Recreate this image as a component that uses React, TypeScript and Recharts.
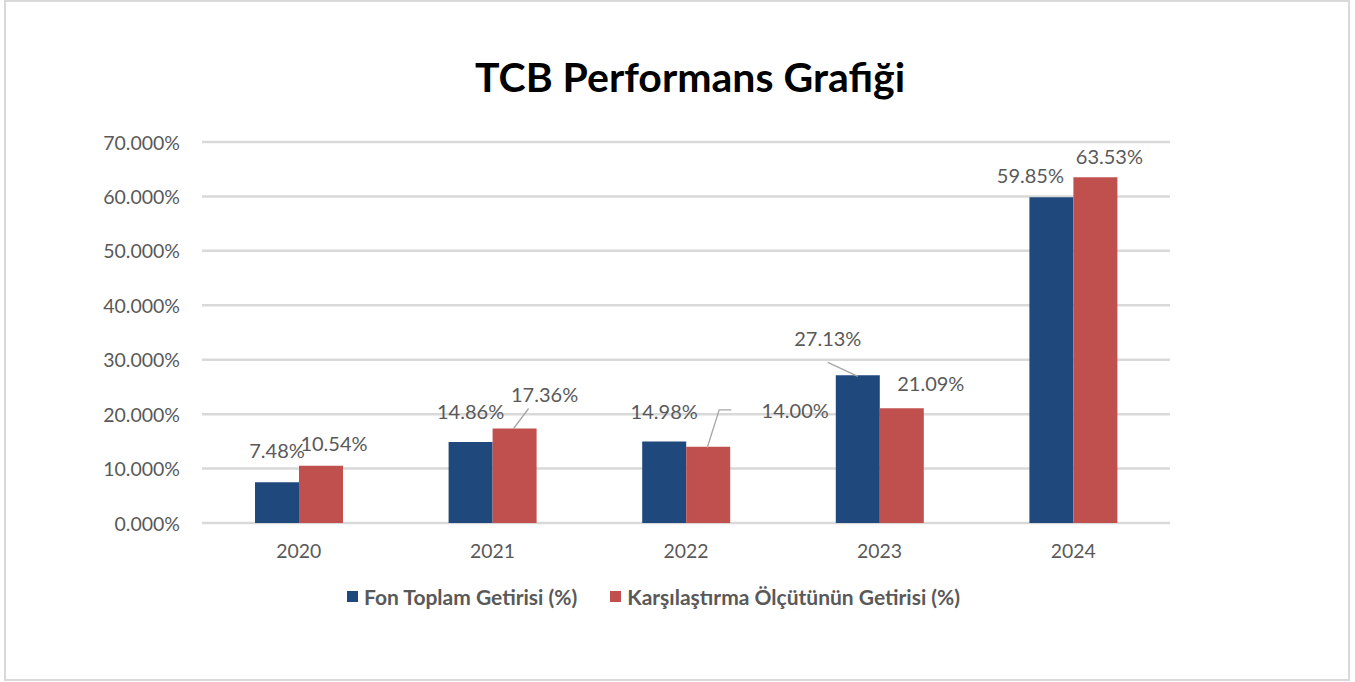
import React from 'react';
import { BarChart, Bar, XAxis, YAxis, CartesianGrid, Legend, LabelList } from 'recharts';

// ---- data ----
const years = ['2020', '2021', '2022', '2023', '2024'];
const fonToplamGetirisi = [7.48, 14.86, 14.98, 27.13, 59.85];
const olcutGetirisi = [10.54, 17.36, 14.0, 21.09, 63.53];
const yTicks = [0, 10, 20, 30, 40, 50, 60, 70];
const seriesNames = ['Fon Toplam Getirisi (%)', 'Karşılaştırma Ölçütünün Getirisi (%)'];

const data = years.map((y, i) => ({ year: y, fon: fonToplamGetirisi[i], olcut: olcutGetirisi[i] }));

// ---- styling / manual label placement (offsets from bar top-centre) ----
const BLUE = '#1F497D';
const RED = '#C0504D';
const GRAY = '#595959';
const FONT = 'Lato, "Open Sans", sans-serif';

type Place = { dx: number; dy: number; leader?: number[][] };
const fonLabelPlace: Place[] = [
  { dx: 0, dy: -32 },
  { dx: 0, dy: -31 },
  { dx: 0, dy: -30 },
  { dx: -30, dy: -37, leader: [[0, 1], [-30, -13]] },
  { dx: -21, dy: -22 },
];
const olcutLabelPlace: Place[] = [
  { dx: 13, dy: -23 },
  { dx: 30, dy: -35, leader: [[-1, 0], [14, -20]] },
  { dx: 87, dy: -37, leader: [[-1, 1], [11, -37], [23, -37]] },
  { dx: 29, dy: -25 },
  { dx: 14, dy: -21 },
];

const makeLabel = (places: Place[]) => (props: any) => {
  const vb = props.viewBox || {};
  const x = props.x ?? vb.x;
  const y = props.y ?? vb.y;
  const width = props.width ?? vb.width;
  const height = props.height ?? vb.height;
  const idx = props.index ?? 0;
  const value = props.value;
  const p = places[idx] || { dx: 0, dy: -20 };
  const cx = x + width / 2;
  const top = height >= 0 ? y : y + height;
  return (
    <g>
      {p.leader && (
        <polyline
          points={p.leader.map(([a, b]) => `${cx + a},${top + b}`).join(' ')}
          fill="none"
          stroke="#a6a6a6"
          strokeWidth={1.3}
        />
      )}
      <text
        x={cx + p.dx}
        y={top + p.dy}
        textAnchor="middle"
        dominantBaseline="central"
        fill={GRAY}
        fontSize={20}
        fontFamily={FONT}
      >
        {`${Number(value).toFixed(2)}%`}
      </text>
    </g>
  );
};

const YTick = (props: any) => {
  const { x, y, payload } = props;
  return (
    <text x={x - 22} y={y} textAnchor="end" dominantBaseline="central" fill={GRAY} fontSize={19.5} fontFamily={FONT}>
      {`${Number(payload.value).toFixed(3)}%`}
    </text>
  );
};

const XTick = (props: any) => {
  const { x, y, payload } = props;
  return (
    <text x={x} y={y + 27} textAnchor="middle" dominantBaseline="central" fill={GRAY} fontSize={19.4} fontFamily={FONT}>
      {payload.value}
    </text>
  );
};

const LegendContent = () => (
  <div
    style={{
      display: 'flex',
      alignItems: 'center',
      height: 24,
      fontFamily: FONT,
      fontWeight: 700,
      fontSize: 21,
      color: GRAY,
      whiteSpace: 'nowrap',
    }}
  >
    <span style={{ display: 'inline-block', width: 11, height: 11, background: BLUE, marginRight: 6 }} />
    <span>{seriesNames[0]}</span>
    <span style={{ display: 'inline-block', width: 11, height: 11, background: RED, marginLeft: 33, marginRight: 6 }} />
    <span>{seriesNames[1]}</span>
  </div>
);

export default function App() {
  return (
    <div
      style={{
        position: 'absolute',
        left: 4,
        top: 0,
        width: 1346,
        height: 681,
        border: '2px solid #d9d9d9',
        boxSizing: 'border-box',
        background: '#fff',
      }}
    >
      <div
        style={{
          position: 'absolute',
          left: 384,
          width: 600,
          top: 52,
          height: 46,
          lineHeight: '46px',
          textAlign: 'center',
          fontFamily: FONT,
          fontWeight: 700,
          fontSize: 41,
          color: '#000',
        }}
      >
        TCB Performans Grafiği
      </div>
      <BarChart
        width={1342}
        height={677}
        data={data}
        margin={{ top: 140, right: 178, left: 0, bottom: 92 }}
        barGap={0}
      >
        <CartesianGrid vertical={false} stroke="#d9d9d9" strokeWidth={2.5} />
        <XAxis
          dataKey="year"
          axisLine={false}
          tickLine={false}
          tickSize={0}
          tickMargin={0}
          height={40}
          tick={<XTick />}
        />
        <YAxis
          domain={[0, 70]}
          ticks={yTicks}
          axisLine={false}
          tickLine={false}
          tickSize={0}
          tickMargin={0}
          width={196}
          tick={<YTick />}
          interval={0}
        />
        <Legend
          verticalAlign="bottom"
          content={<LegendContent />}
          wrapperStyle={{ position: 'absolute', left: 341, top: 582, width: 700, height: 24 }}
        />
        <Bar dataKey="fon" name={seriesNames[0]} fill={BLUE} barSize={44} isAnimationActive={false}>
          <LabelList dataKey="fon" content={makeLabel(fonLabelPlace)} />
        </Bar>
        <Bar dataKey="olcut" name={seriesNames[1]} fill={RED} barSize={44} isAnimationActive={false}>
          <LabelList dataKey="olcut" content={makeLabel(olcutLabelPlace)} />
        </Bar>
      </BarChart>
    </div>
  );
}
